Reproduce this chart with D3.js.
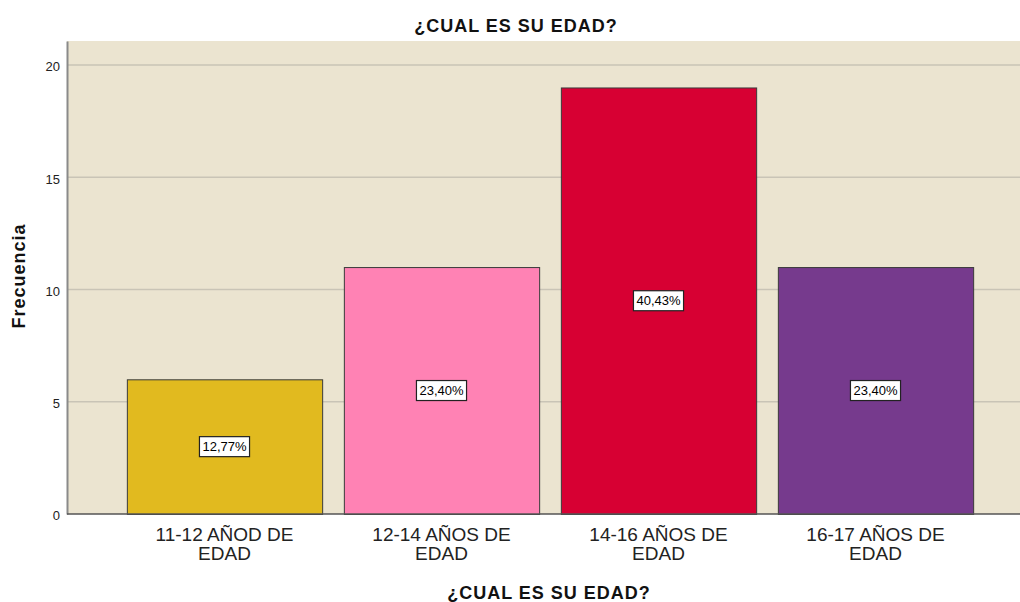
<!DOCTYPE html>
<html>
<head>
<meta charset="utf-8">
<script src="https://cdn.jsdelivr.net/npm/d3@7"></script>
<style>
  body { margin: 0; background: #fff; }
  svg text { font-family: "Liberation Sans", Arial, sans-serif; }
</style>
</head>
<body>
<svg id="chart" width="1020" height="602"></svg>
<script>
var categories = ["11-12 AÑOD DE|EDAD", "12-14 AÑOS DE|EDAD", "14-16 AÑOS DE|EDAD", "16-17 AÑOS DE|EDAD"];
var counts = [6, 11, 19, 11];
var percents = ["12,77%", "23,40%", "40,43%", "23,40%"];
var barColors = ["#E1BA1F", "#FF82B4", "#D70033", "#763A8D"];
var yTicks = [0, 5, 10, 15, 20];

var svg = d3.select("#chart");
var plotLeft = 67, plotRight = 1020, plotTop = 41, plotBottom = 514;

var x = d3.scaleBand().domain(categories).range([116, 984]).paddingInner(0.1).paddingOuter(0.05);
var y = d3.scaleLinear().domain([0, 21.07]).range([plotBottom, plotTop]);

// fondo del area de grafico
svg.append("rect")
  .attr("x", plotLeft).attr("y", plotTop)
  .attr("width", plotRight - plotLeft).attr("height", plotBottom - plotTop)
  .attr("fill", "#EBE4D0");

// lineas de cuadricula
svg.selectAll("line.grid").data(yTicks.filter(function(d){ return d > 0; }))
  .enter().append("line")
  .attr("class", "grid")
  .attr("x1", plotLeft).attr("x2", plotRight)
  .attr("y1", function(d){ return y(d); }).attr("y2", function(d){ return y(d); })
  .attr("stroke", "#C9C4B6").attr("stroke-width", 1.5);

// barras
svg.selectAll("rect.bar").data(counts)
  .enter().append("rect")
  .attr("class", "bar")
  .attr("x", function(d, i){ return x(categories[i]) + 0.5; })
  .attr("y", function(d){ return y(d) + 0.5; })
  .attr("width", x.bandwidth())
  .attr("height", function(d){ return plotBottom - y(d); })
  .attr("fill", function(d, i){ return barColors[i]; })
  .attr("stroke", "#3a3a3a").attr("stroke-width", 1);

// eje Y
var yAxis = svg.append("g")
  .attr("transform", "translate(" + plotLeft + ",0)")
  .call(d3.axisLeft(y).tickValues(yTicks).tickSize(0).tickPadding(7));
yAxis.select(".domain").attr("stroke", "#8a8a8a").attr("stroke-width", 2);
yAxis.selectAll("text").attr("font-size", 13).attr("fill", "#222").attr("dy", "0.45em")
  .style("font-family", "'Liberation Sans', Arial, sans-serif");

// eje X
var xAxis = svg.append("g")
  .attr("transform", "translate(0," + plotBottom + ")")
  .call(d3.axisBottom(x).tickSize(0).tickFormat(""));
xAxis.select(".domain").remove();
svg.append("line")
  .attr("x1", plotLeft).attr("x2", plotRight)
  .attr("y1", plotBottom).attr("y2", plotBottom)
  .attr("stroke", "#555").attr("stroke-width", 1.5);

xAxis.selectAll(".tick").each(function(d){
  var t = d3.select(this).append("text")
    .attr("text-anchor", "middle")
    .attr("fill", "#222")
    .attr("font-size", 19)
    .style("font-family", "'Liberation Sans', Arial, sans-serif");
  d.split("|").forEach(function(line, k){
    t.append("tspan").attr("x", 0).attr("y", 27 + k * 19).text(line);
  });
});

// etiquetas de porcentaje
var labels = svg.selectAll("g.lab").data(counts)
  .enter().append("g")
  .attr("class", "lab")
  .attr("transform", function(d, i){
    return "translate(" + (x(categories[i]) + x.bandwidth() / 2) + "," + y(d / 2) + ")";
  });
labels.each(function(d, i){
  var g = d3.select(this);
  var t = g.append("text")
    .attr("text-anchor", "middle").attr("dy", "0.36em")
    .attr("font-size", 13).attr("fill", "#000")
    .text(percents[i]);
  var w = t.node().getComputedTextLength() + 6;
  g.insert("rect", "text")
    .attr("x", -w / 2).attr("y", -10).attr("width", w).attr("height", 20)
    .attr("fill", "#fff").attr("stroke", "#222").attr("stroke-width", 1.2);
});

// titulos
svg.append("text")
  .attr("x", 516).attr("y", 32).attr("text-anchor", "middle")
  .attr("font-size", 18).attr("font-weight", "bold").attr("fill", "#111")
  .attr("letter-spacing", 1)
  .text("¿CUAL ES SU EDAD?");

svg.append("text")
  .attr("x", 549).attr("y", 599).attr("text-anchor", "middle")
  .attr("font-size", 18).attr("font-weight", "bold").attr("fill", "#111")
  .attr("letter-spacing", 1)
  .text("¿CUAL ES SU EDAD?");

svg.append("text")
  .attr("transform", "translate(25,276) rotate(-90)")
  .attr("text-anchor", "middle")
  .attr("font-size", 18).attr("font-weight", "bold").attr("fill", "#111")
  .attr("letter-spacing", 1)
  .text("Frecuencia");
</script>
</body>
</html>
